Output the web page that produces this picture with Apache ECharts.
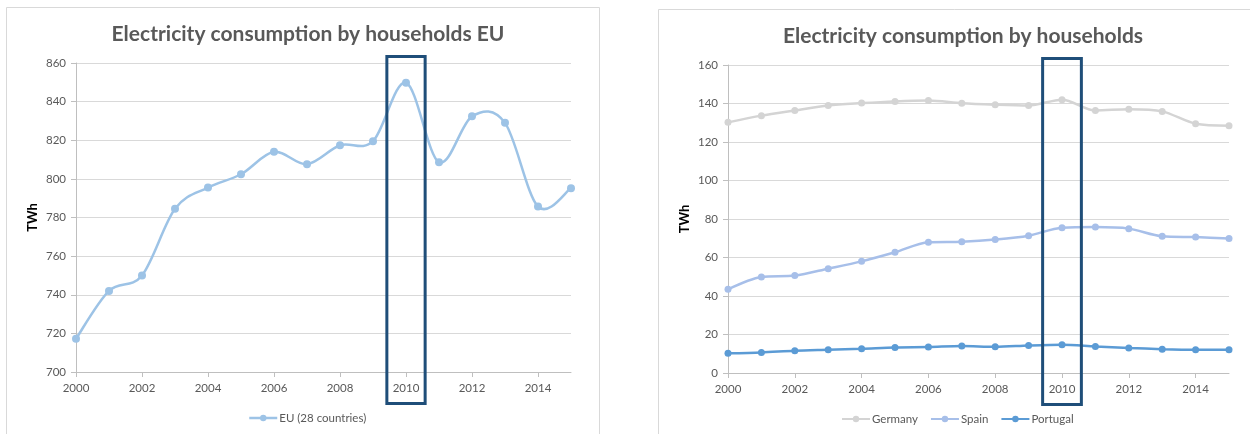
<!DOCTYPE html>
<html>
<head>
<meta charset="utf-8">
<script src="https://cdn.jsdelivr.net/npm/echarts@6/dist/echarts.min.js"></script>
<style>
  html, body { margin: 0; padding: 0; background: #ffffff; }
  #chart { width: 1250px; height: 434px; }
</style>
</head>
<body>
<div id="chart"></div>
<script>
// Household electricity consumption, TWh
const years = ['2000', '2001', '2002', '2003', '2004', '2005', '2006', '2007',
               '2008', '2009', '2010', '2011', '2012', '2013', '2014', '2015'];
const euValues = [717.2, 742.0, 750.0, 784.5, 795.5, 802.4, 814.0, 807.6,
                  817.4, 819.5, 849.8, 808.6, 832.4, 829.0, 785.7, 795.2];
const germanyValues = [130.2, 133.7, 136.4, 139.0, 140.2, 141.1, 141.5, 140.1,
                       139.4, 139.0, 142.0, 136.4, 137.0, 135.9, 129.5, 128.5];
const spainValues = [43.5, 49.9, 50.6, 54.2, 58.0, 62.7, 67.9, 68.2,
                     69.3, 71.3, 75.5, 75.8, 75.0, 71.0, 70.6, 69.9];
const portugalValues = [10.2, 10.7, 11.6, 12.1, 12.6, 13.3, 13.5, 14.0,
                        13.6, 14.3, 14.7, 13.8, 13.0, 12.4, 12.1, 12.1];
const highlightYear = '2010';

const euAxis = { min: 700, max: 860, interval: 20 };
const countryAxis = { min: 0, max: 160, interval: 20 };

const FONT = 'Lato';
const TEXT_GREY = '#595959';
const GRID_GREY = '#d9d9d9';
const AXIS_GREY = '#bfbfbf';
const EU_BLUE = '#9dc3e6';

function categoryAxis(gridIndex) {
  return {
    type: 'category',
    gridIndex: gridIndex,
    data: years,
    boundaryGap: false,
    axisLine: { lineStyle: { color: AXIS_GREY, width: 1 } },
    axisTick: { interval: 1, length: 5, lineStyle: { color: AXIS_GREY } },
    axisLabel: { interval: 1, color: TEXT_GREY, fontFamily: FONT, fontSize: 11.5, margin: 10 },
    splitLine: { show: false }
  };
}

function valueAxis(gridIndex, range) {
  return {
    type: 'value',
    gridIndex: gridIndex,
    min: range.min,
    max: range.max,
    interval: range.interval,
    name: 'TWh',
    nameLocation: 'middle',
    nameGap: 37,
    nameRotate: 90,
    nameTextStyle: { color: '#000000', fontFamily: FONT, fontWeight: 'bold', fontSize: 13 },
    axisLine: { show: true, lineStyle: { color: AXIS_GREY, width: 1 } },
    axisTick: { show: true, length: 5, lineStyle: { color: AXIS_GREY } },
    axisLabel: { color: TEXT_GREY, fontFamily: FONT, fontSize: 11.5, margin: 10 },
    splitLine: { lineStyle: { color: GRID_GREY, width: 1 } }
  };
}

function lineSeries(name, values, color, axisIndex, smooth, width, size) {
  return {
    name: name,
    type: 'line',
    xAxisIndex: axisIndex,
    yAxisIndex: axisIndex,
    data: values,
    smooth: smooth,
    symbol: 'circle',
    symbolSize: size,
    showSymbol: true,
    lineStyle: { color: color, width: width },
    itemStyle: { color: color },
    emphasis: { disabled: true },
    z: 3
  };
}

// Cardinal (Catmull-Rom) curve through the EU points, one Bezier segment per item,
// so the smoothed line may swing past its points like a spreadsheet's smoothed line.
function euCurveSeries() {
  return {
    type: 'custom',
    xAxisIndex: 0,
    yAxisIndex: 0,
    data: euValues.map(function (v, i) { return [i, v]; }),
    silent: true,
    clip: false,
    z: 2,
    renderItem: function (params, api) {
      const i = params.dataIndex;
      const n = euValues.length;
      if (i >= n - 1) return null;
      const pt = function (k) {
        const j = Math.max(0, Math.min(n - 1, k));
        return api.coord([j, euValues[j]]);
      };
      const p0 = pt(i - 1), p1 = pt(i), p2 = pt(i + 1), p3 = pt(i + 2);
      return {
        type: 'bezierCurve',
        shape: {
          x1: p1[0], y1: p1[1],
          x2: p2[0], y2: p2[1],
          cpx1: p1[0] + (p2[0] - p0[0]) / 6, cpy1: p1[1] + (p2[1] - p0[1]) / 6,
          cpx2: p2[0] - (p3[0] - p1[0]) / 6, cpy2: p2[1] - (p3[1] - p1[1]) / 6
        },
        style: { stroke: EU_BLUE, lineWidth: 2.5, fill: null, lineCap: 'round' }
      };
    }
  };
}

const chart = echarts.init(document.getElementById('chart'), null, { renderer: 'canvas' });

const euMarkers = lineSeries('EU (28 countries)', euValues, EU_BLUE, 0, false, 2.5, 8);
euMarkers.lineStyle.opacity = 0;

const option = {
  backgroundColor: '#ffffff',
  animation: false,
  title: [
    {
      text: 'Electricity consumption by households EU',
      left: 303, top: 19, textAlign: 'center',
      textStyle: { color: TEXT_GREY, fontFamily: FONT, fontWeight: 'bold', fontSize: 21 }
    },
    {
      text: 'Electricity consumption by households',
      left: 958, top: 21, textAlign: 'center',
      textStyle: { color: TEXT_GREY, fontFamily: FONT, fontWeight: 'bold', fontSize: 21 }
    }
  ],
  legend: [
    {
      data: [{ name: 'EU (28 countries)', lineStyle: { opacity: 1, color: EU_BLUE, width: 2.5 } }],
      left: 243, top: 407,
      itemWidth: 28, itemHeight: 8, itemGap: 14,
      textStyle: { color: TEXT_GREY, fontFamily: FONT, fontSize: 11.5, padding: [0, 0, 0, -3] }
    },
    {
      data: ['Germany', 'Spain', 'Portugal'],
      left: 836, top: 408,
      itemWidth: 28, itemHeight: 8, itemGap: 12,
      textStyle: { color: TEXT_GREY, fontFamily: FONT, fontSize: 11.5, padding: [0, 0, 0, -3] }
    }
  ],
  grid: [
    { left: 76, top: 63, width: 495, height: 309 },
    { left: 728, top: 65, width: 501, height: 308 }
  ],
  xAxis: [categoryAxis(0), categoryAxis(1)],
  yAxis: [valueAxis(0, euAxis), valueAxis(1, countryAxis)],
  series: [
    euCurveSeries(),
    euMarkers,
    lineSeries('Germany', germanyValues, '#d4d4d4', 1, 0.3, 2.5, 7),
    lineSeries('Spain', spainValues, '#a7bfe9', 1, 0.3, 2.5, 7),
    lineSeries('Portugal', portugalValues, '#5b9bd5', 1, 0.3, 2.5, 7)
  ]
};

chart.setOption(option);

// Panel frames and the highlight box around the chosen year, placed from the axes
function panelFrames() {
  return [
    { type: 'rect', shape: { x: 6.5, y: 7.5, width: 593, height: 440 },
      style: { fill: null, stroke: '#d9d9d9', lineWidth: 1 }, z: 0, silent: true },
    { type: 'rect', shape: { x: 658.5, y: 9.5, width: 600, height: 440 },
      style: { fill: null, stroke: '#d9d9d9', lineWidth: 1 }, z: 0, silent: true }
  ];
}

function highlightBox(axisIndex, range) {
  const idx = years.indexOf(highlightYear);
  const cx = chart.convertToPixel({ xAxisIndex: axisIndex }, idx);
  const step = chart.convertToPixel({ xAxisIndex: axisIndex }, idx + 1) - cx;
  const top = chart.convertToPixel({ yAxisIndex: axisIndex }, range.max);
  const bottom = chart.convertToPixel({ yAxisIndex: axisIndex }, range.min);
  const halfW = step * 0.58;
  return {
    type: 'rect',
    shape: { x: cx - halfW, y: top - 6.5, width: halfW * 2, height: (bottom + 31.5) - (top - 6.5) },
    style: { fill: null, stroke: '#1f4e79', lineWidth: 3 },
    z: 100, silent: true
  };
}

chart.setOption({
  graphic: panelFrames().concat([highlightBox(0, euAxis), highlightBox(1, countryAxis)])
});
</script>
</body>
</html>
